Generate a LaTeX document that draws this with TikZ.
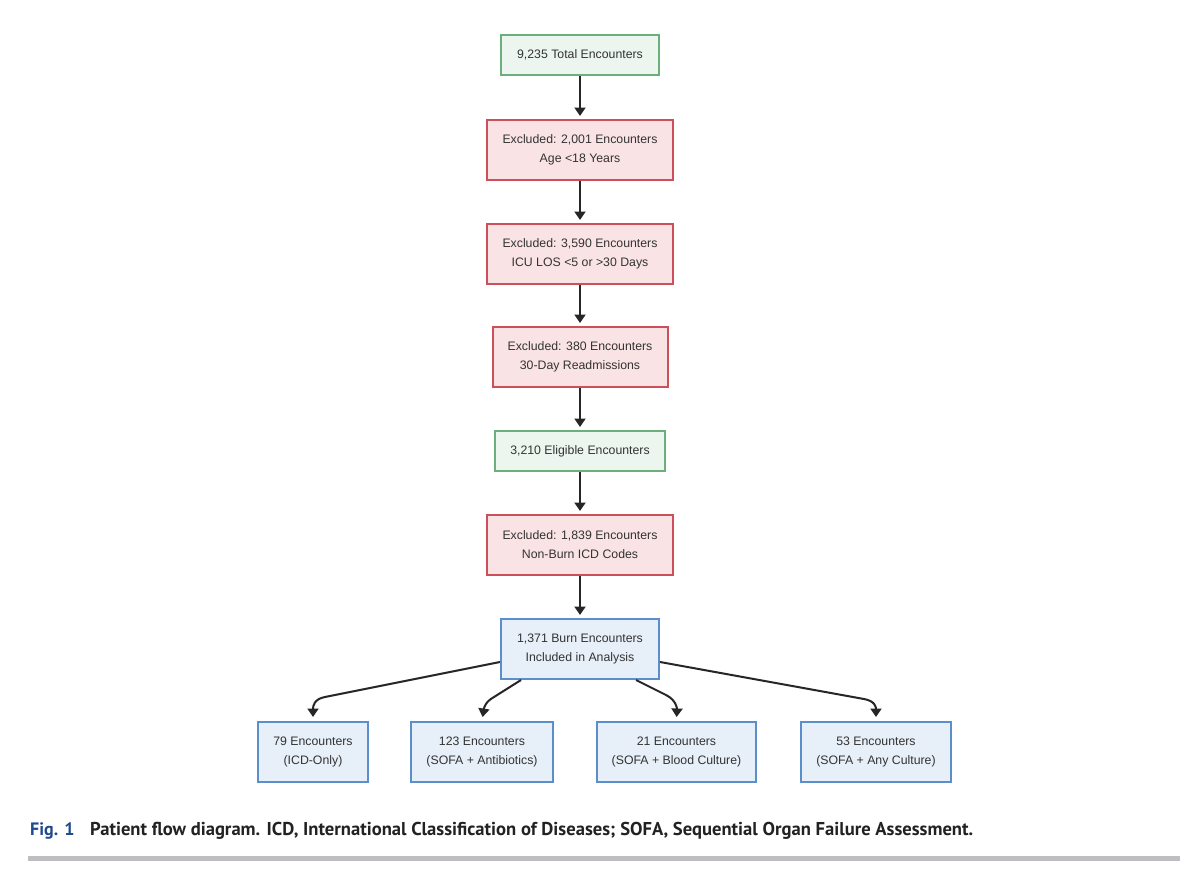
\documentclass[tikz,border=0pt]{standalone}
\usepackage{fontspec}
\setmainfont{Liberation Sans}
\newfontfamily\capfont{PT Sans}
\usetikzlibrary{arrows.meta,calc}
\definecolor{gbord}{HTML}{6DAF7B}
\definecolor{gfill}{HTML}{ECF6EE}
\definecolor{rbord}{HTML}{CC4F5A}
\definecolor{rfill}{HTML}{FAE3E4}
\definecolor{bbord}{HTML}{5B8FCC}
\definecolor{bfill}{HTML}{E7EFF9}
\definecolor{txt}{HTML}{333333}
\definecolor{figblue}{HTML}{1F4A8C}
\definecolor{captxt}{HTML}{222222}
\definecolor{rulegray}{HTML}{BDBDC2}
\tikzset{
  flowbox/.style={draw, line width=2pt, align=center, inner sep=0pt, text=txt,
    font=\fontsize{12.3}{19}\selectfont},
  greenbox/.style={flowbox, draw=gbord, fill=gfill},
  redbox/.style={flowbox, draw=rbord, fill=rfill},
  bluebox/.style={flowbox, draw=bbord, fill=bfill},
  arr/.style={draw=black!85, line width=2pt, -{Triangle[width=11pt,length=8.5pt]}, shorten >=3pt},
}
\begin{document}
\begin{tikzpicture}[x=1pt,y=-1pt]
\useasboundingbox[fill=white] (0,0) rectangle (1202,881);
\node[greenbox, minimum width=158pt, minimum height=40pt] (n1) at (580,55) {9,235 Total Encounters};
\node[redbox, minimum width=186pt, minimum height=60pt] (n2) at (580,150) {Excluded: 2,001 Encounters\\Age <18 Years};
\node[redbox, minimum width=186pt, minimum height=60pt] (n3) at (580,254) {Excluded: 3,590 Encounters\\ICU LOS <5 or >30 Days};
\node[redbox, minimum width=175pt, minimum height=60pt] (n4) at (580,357) {Excluded: 380 Encounters\\30-Day Readmissions};
\node[greenbox, minimum width=170pt, minimum height=40pt] (n5) at (580,451) {3,210 Eligible Encounters};
\node[redbox, minimum width=186pt, minimum height=60pt] (n6) at (580,545) {Excluded: 1,839 Encounters\\Non-Burn ICD Codes};
\node[bluebox, minimum width=158pt, minimum height=60pt] (n7) at (580,649) {1,371 Burn Encounters\\Included in Analysis};
\node[bluebox, minimum width=110pt, minimum height=60pt] (a) at (313,752) {79 Encounters\\(ICD-Only)};
\node[bluebox, minimum width=142pt, minimum height=60pt] (b) at (482,752) {123 Encounters\\(SOFA + Antibiotics)};
\node[bluebox, minimum width=159pt, minimum height=60pt] (c) at (676.5,752) {21 Encounters\\(SOFA + Blood Culture)};
\node[bluebox, minimum width=150pt, minimum height=60pt] (d) at (876,752) {53 Encounters\\(SOFA + Any Culture)};

\draw[arr] (n1) -- (n2);
\draw[arr] (n2) -- (n3);
\draw[arr] (n3) -- (n4);
\draw[arr] (n4) -- (n5);
\draw[arr] (n5) -- (n6);
\draw[arr] (n6) -- (n7);

\draw[arr, shorten >=4pt] ($(n7.west)+(0,13)$) -- (325,697) .. controls (314,699) and (313,706) .. (a.north);
\draw[arr, shorten >=4pt] ($(n7.south west)+(21,0)$) -- (494,697) .. controls (485,702) and (484,708) .. (b.north);
\draw[arr, shorten >=4pt] ($(n7.south west)+(136,0)$) -- (666,695) .. controls (676,700) and (677,708) .. (c.north);
\draw[arr, shorten >=4pt] ($(n7.east)+(0,13)$) -- (864,699) .. controls (875,701) and (876,707) .. (d.north);

\node[anchor=base west, inner sep=0pt, text=figblue, font=\capfont\bfseries\fontsize{18}{20}\selectfont] (fig) at (30,835) {Fig. 1};
\node[anchor=base west, inner sep=0pt, text=captxt, font=\capfont\bfseries\fontsize{18.6}{20}\selectfont] (cap) at (90,835) {Patient flow diagram. ICD, International Classification of Diseases; SOFA, Sequential Organ Failure Assessment.};
\fill[rulegray] (28,856) rectangle (1180,861);
\end{tikzpicture}
\end{document}
